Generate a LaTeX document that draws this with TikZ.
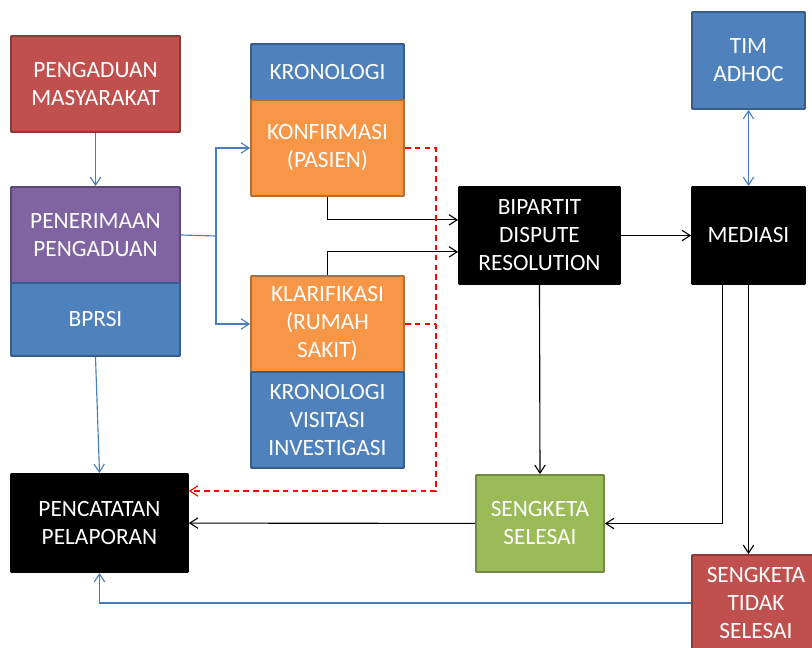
\documentclass[tikz,border=0pt]{standalone}
\usepackage{fontspec}
\setmainfont{Carlito}
\usetikzlibrary{arrows.meta}
\usetikzlibrary{calc}
\definecolor{merahbox}{HTML}{C0504D}
\definecolor{merahtepi}{HTML}{8C3836}
\definecolor{unguBox}{HTML}{8064A2}
\definecolor{ungutepi}{HTML}{5C4776}
\definecolor{birubox}{HTML}{4F81BD}
\definecolor{birutepi}{HTML}{385D8A}
\definecolor{oranyebox}{HTML}{F79646}
\definecolor{oranyetepi}{HTML}{B66D31}
\definecolor{hijaubox}{HTML}{9BBB59}
\definecolor{hijautepi}{HTML}{71893F}
\definecolor{garisbiru}{HTML}{4A7EBB}
\newcommand{\px}{0.025cm}
\newcommand{\kotak}[7] % name, style, x1, y1, x2, y2 (px), text
{
	\node[kotak, #2, minimum width={(#5-#3)*\px}, minimum height={(#6-#4)*\px}]
		(#1) at ({(#3+#5)/2},{(#4+#6)/2}) {#7};
}
\tikzset{
	kotak/.style={draw, line width=1.3pt, rounded corners=0.5pt, inner sep=1pt,
		align=center, text=white, font=\fontsize{16.6}{19.9}\selectfont},
	merah/.style={fill=merahbox, draw=merahtepi},
	ungu/.style={fill=unguBox, draw=ungutepi},
	biru/.style={fill=birubox, draw=birutepi},
	oranye/.style={fill=oranyebox, draw=oranyetepi},
	hijau/.style={fill=hijaubox, draw=hijautepi},
	hitam/.style={fill=black, draw=black},
	ujung/.tip={Straight Barb[length=0.2cm, width=0.26cm]},
	panah/.style={line width=0.8pt, -ujung},
	panahbiru/.style={panah, draw=garisbiru},
	panahdua/.style={line width=0.8pt, draw=garisbiru, ujung-ujung},
	putus/.style={line width=0.8pt, red, dashed, dash pattern=on 4pt off 3pt},
	panahmerah/.style={putus, -ujung}
}
\begin{document}
\begin{tikzpicture}[x=0.025cm, y=-0.025cm]
	% frame: 812 x 648 px
	\useasboundingbox (0,0) rectangle (812,648);
	% left column
	\kotak{masyarakat}{merah}{11}{36}{180}{132}{PENGADUAN\\MASYARAKAT}
	\kotak{penerimaan}{ungu}{11}{187}{180}{283}{PENERIMAAN\\PENGADUAN}
	\kotak{bprsi}{biru}{11}{283}{180}{356}{BPRSI}
	\kotak{pencatatan}{hitam}{11}{474}{188}{572}{PENCATATAN\\PELAPORAN}
	% middle column
	\kotak{kronologi}{biru}{251}{44}{404}{100}{KRONOLOGI}
	\kotak{konfirmasi}{oranye}{251}{100}{404}{196}{KONFIRMASI\\(PASIEN)}
	\kotak{klarifikasi}{oranye}{251}{276}{404}{372}{KLARIFIKASI\\(RUMAH\\SAKIT)}
	\kotak{visitasi}{biru}{251}{372}{404}{468}{KRONOLOGI\\VISITASI\\INVESTIGASI}
	% right part
	\kotak{bipartit}{hitam}{459}{187}{620}{284}{BIPARTIT\\DISPUTE\\RESOLUTION}
	\kotak{timadhoc}{biru}{692}{12}{805}{109}{TIM\\ADHOC}
	\kotak{mediasi}{hitam}{692}{187}{805}{284}{MEDIASI}
	\kotak{selesai}{hijau}{476}{475}{604}{572}{SENGKETA\\SELESAI}
	\kotak{tidakselesai}{merah}{692}{555}{820}{651}{SENGKETA\\TIDAK\\SELESAI}
	% blue connectors
	\coordinate (cabang) at (216,236);
	\draw[panahbiru] (masyarakat) -- (penerimaan);
	\draw[line width=0.8pt, garisbiru] (penerimaan.east) -- (cabang);
	\draw[panahbiru] (cabang) |- (konfirmasi.west);
	\draw[panahbiru] (cabang) |- (klarifikasi.west);
	\draw[panahbiru] (bprsi.south) -- (pencatatan.north);
	\draw[panahdua] (timadhoc) -- (mediasi);
	\draw[panahbiru] (tidakselesai.west) -| (pencatatan.south);
	% black connectors
	\draw[panah] (konfirmasi.south) |- ([yshift=0.39cm]bipartit.west);
	\draw[panah] (klarifikasi.north) |- ([yshift=-0.41cm]bipartit.west);
	\draw[panah] (bipartit) -- (mediasi);
	\draw[panah] (bipartit.south) -- (selesai.north);
	\draw[panah] ([xshift=-0.64cm]mediasi.south) |- (selesai.east);
	\draw[panah] (mediasi.south) -- (mediasi.south |- tidakselesai.north);
	\draw[panah] (selesai) -- (pencatatan);
	% red dashed connectors
	\coordinate (belok) at (436,491);
	\draw[panahmerah] (konfirmasi.east) -| (belok) -- (belok -| pencatatan.east);
	\draw[putus] (klarifikasi.east) -- (klarifikasi.east -| belok);
\end{tikzpicture}
\end{document}
